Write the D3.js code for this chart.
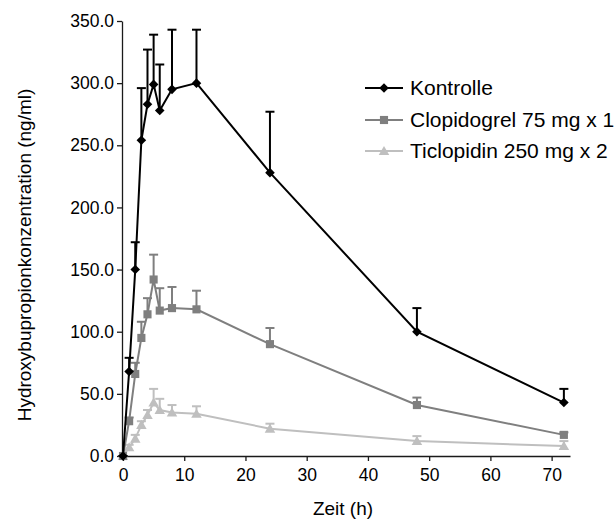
<!DOCTYPE html>
<html>
<head>
<meta charset="utf-8">
<script src="https://cdn.jsdelivr.net/npm/d3@7"></script>
<style>
  html, body { margin: 0; padding: 0; background: #fff; }
  svg { display: block; font-family: "Liberation Sans", Arial, sans-serif; }
</style>
</head>
<body>
<svg id="chart" width="614" height="520"></svg>
<script>
// Sampling times (h)
const times = [0, 1, 2, 3, 4, 5, 6, 8, 12, 24, 48, 72];

// Mean concentrations (ng/ml)
const kontrolle   = [0, 68, 150, 254, 283, 299, 278, 295, 300, 228, 100, 43];
const clopidogrel = [0, 28, 66, 95, 114, 142, 117, 119, 118, 90, 41, 17];
const ticlopidin  = [0, 7, 14, 25, 33, 43, 37, 35, 34, 22, 12, 8];

// Standard deviations (upper error bars)
const kontrolleSD   = [0, 11, 22, 42, 44, 40, 37, 48, 43, 49, 19, 11];
const clopidogrelSD = [0, 3, 9, 13, 13, 20, 18, 17, 15, 13, 6, 2];
const ticlopidinSD  = [0, 2, 3, 3, 4, 11, 9, 6, 6, 4, 4, 4];

const seriesNames  = ["Kontrolle", "Clopidogrel 75 mg x 1", "Ticlopidin 250 mg x 2"];
const seriesColors = ["#000000", "#7f7f7f", "#bfbfbf"];
const seriesShapes = ["diamond", "square", "triangle"];

const yTicks = [0, 50, 100, 150, 200, 250, 300, 350];
const xTicks = [0, 10, 20, 30, 40, 50, 60, 70];

const xTitle = "Zeit (h)";
const yTitle = "Hydroxybupropionkonzentration (ng/ml)";

const series = [
  { name: seriesNames[0], color: seriesColors[0], shape: seriesShapes[0], values: kontrolle,   sd: kontrolleSD },
  { name: seriesNames[1], color: seriesColors[1], shape: seriesShapes[1], values: clopidogrel, sd: clopidogrelSD },
  { name: seriesNames[2], color: seriesColors[2], shape: seriesShapes[2], values: ticlopidin,  sd: ticlopidinSD }
];

const svg = d3.select("#chart");

const x = d3.scaleLinear().domain([0, 73]).range([123, 570]);
const y = d3.scaleLinear().domain([0, 350]).range([456, 21]);

function symbolPath(shape) {
  if (shape === "diamond") return d3.symbol(d3.symbolSquare, 46)();
  if (shape === "square") return d3.symbol(d3.symbolSquare, 66)();
  return d3.symbol(d3.symbolTriangle, 48)();
}
function symbolTransform(shape, px, py) {
  if (shape === "diamond") return `translate(${px},${py}) rotate(45)`;
  if (shape === "triangle") return `translate(${px},${py + 1})`;
  return `translate(${px},${py})`;
}

// Axes
const axisColor = "#1a1a1a";
const yAxis = d3.axisLeft(y).tickValues(yTicks).tickFormat(d3.format(".1f")).tickSize(5).tickSizeOuter(0).tickPadding(3);
const gy = svg.append("g").attr("transform", `translate(${x(0) - 1},0)`).call(yAxis);
gy.selectAll("text").attr("font-size", 17.5).attr("fill", "#000").attr("font-family", "Liberation Sans, Arial, sans-serif");

const xAxis = d3.axisBottom(x).tickValues(xTicks).tickSize(5).tickSizeOuter(0).tickPadding(8);
const gx = svg.append("g").attr("transform", `translate(0,${y(0)})`).call(xAxis);
gx.selectAll("text").attr("font-size", 17.5).attr("fill", "#000").attr("font-family", "Liberation Sans, Arial, sans-serif");

[gx, gy].forEach(g => {
  g.select(".domain").attr("stroke", axisColor).attr("stroke-width", 1.3);
  g.selectAll(".tick line").attr("stroke", axisColor).attr("stroke-width", 1.3);
});

// Axis titles
svg.append("text")
  .attr("x", 343).attr("y", 515)
  .attr("text-anchor", "middle")
  .attr("font-size", 19)
  .text(xTitle);

svg.append("text")
  .attr("transform", "translate(31,255) rotate(-90)")
  .attr("text-anchor", "middle")
  .attr("font-size", 19)
  .text(yTitle);

// Series: drawn from lightest to darkest so the control curve is on top
const line = d3.line().x((d, i) => x(times[i])).y(d => y(d));

series.slice().reverse().forEach(s => {
  const g = svg.append("g");

  // Upper error bars
  const bars = g.selectAll(".err").data(s.values).enter().append("g");
  bars.append("line")
    .attr("x1", (d, i) => x(times[i])).attr("x2", (d, i) => x(times[i]))
    .attr("y1", d => y(d))
    .attr("y2", (d, i) => y(d + s.sd[i]))
    .attr("stroke", s.color).attr("stroke-width", 2);
  bars.append("line")
    .attr("x1", (d, i) => x(times[i]) - 4.5).attr("x2", (d, i) => x(times[i]) + 4.5)
    .attr("y1", (d, i) => y(d + s.sd[i]))
    .attr("y2", (d, i) => y(d + s.sd[i]))
    .attr("stroke", s.color).attr("stroke-width", 2);

  g.append("path")
    .attr("d", line(s.values))
    .attr("fill", "none")
    .attr("stroke", s.color)
    .attr("stroke-width", 2);

  g.selectAll(".pt").data(s.values).enter().append("path")
    .attr("d", symbolPath(s.shape))
    .attr("transform", (d, i) => symbolTransform(s.shape, x(times[i]), y(d)))
    .attr("fill", s.color);
});

// Legend
const legendY = [88, 120, 151];
series.forEach((s, i) => {
  const g = svg.append("g");
  g.append("line")
    .attr("x1", 365).attr("x2", 403)
    .attr("y1", legendY[i]).attr("y2", legendY[i])
    .attr("stroke", s.color).attr("stroke-width", 2);
  g.append("path")
    .attr("d", symbolPath(s.shape))
    .attr("transform", symbolTransform(s.shape, 384, legendY[i]))
    .attr("fill", s.color);
  g.append("text")
    .attr("x", 410).attr("y", legendY[i] + 7)
    .attr("font-size", 21)
    .text(s.name);
});
</script>
</body>
</html>
